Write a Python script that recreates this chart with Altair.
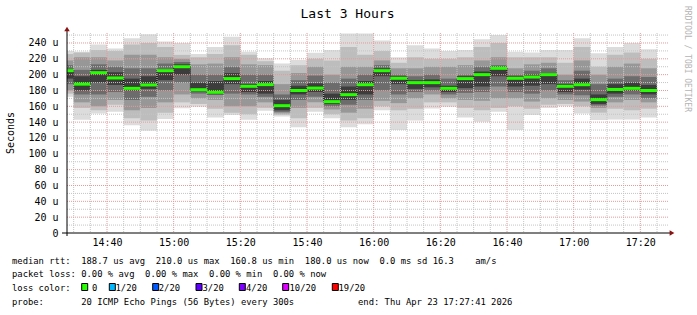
import altair as alt
import pandas as pd

FONT = "DejaVu Sans Mono"

# ---------------- data ----------------
title_text = "Last 3 Hours"
y_title = "Seconds"
watermark = "RRDTOOL / TOBI OETIKER"

window_start = "14:28"
window_end = "17:28"
step_end = ["14:30", "14:35", "14:40", "14:45", "14:50", "14:55", "15:00", "15:05", "15:10",
            "15:15", "15:20", "15:25", "15:30", "15:35", "15:40", "15:45", "15:50", "15:55",
            "16:00", "16:05", "16:10", "16:15", "16:20", "16:25", "16:30", "16:35", "16:40",
            "16:45", "16:50", "16:55", "17:00", "17:05", "17:10", "17:15", "17:20", "17:25"]

x_ticks = ["14:40", "15:00", "15:20", "15:40", "16:00", "16:20", "16:40", "17:00", "17:20"]
y_ticks = [0, 20, 40, 60, 80, 100, 120, 140, 160, 180, 200, 220, 240]

# median rtt (microseconds) per 5-minute step
median = [205, 188, 202.5, 195.8, 182.7, 187, 205, 210, 181, 177.7, 195, 185.3, 187.4, 160.8,
          180, 183, 165.9, 174.7, 187.3, 205, 195.4, 189.9, 189.9, 182.7, 195, 200, 208, 195.4,
          197, 200, 185.3, 187.3, 168.4, 181.3, 182.7, 180]

# smoke bands (outer -> inner), low and high edge per step
band1_lo = [172, 143, 151, 153, 136, 129, 144, 157.5, 159.5, 146, 149, 143, 154.5, 147, 133.5, 153, 145, 133.5,
            137.5, 155, 130, 142, 157.4, 159.5, 146, 140.6, 153, 130, 149, 158, 160, 151, 142.7, 143.5, 143.5, 146]
band1_hi = [230, 229, 238, 233, 246, 251, 242, 240, 226, 235, 248, 229, 220.6, 214, 218.5, 227.6, 231, 252,
            252, 243, 222, 237, 233, 230, 231, 244.6, 250, 229, 228, 231, 231, 246, 227, 235, 240, 232]
band2_lo = [176, 158, 155, 162, 145, 142, 152, 165, 163, 157, 152, 150, 158, 149, 145, 158, 150, 142,
            145, 160, 155, 157, 165, 165, 158, 155, 158, 160, 157, 162, 163, 160, 152, 157, 155, 157]
band2_hi = [226, 228, 231, 230, 238, 240, 235, 225, 222, 226, 237, 225, 217, 205, 212, 220, 218, 235,
            225, 230, 215, 222, 220, 220, 222, 235, 240, 222, 222, 222, 215, 235, 210, 225, 228, 220]
band3_lo = [180, 165, 160, 168, 155, 158, 165, 175, 170, 168, 160, 160, 165, 151, 158, 165, 156, 152,
            157, 167, 164, 170, 175, 170, 168, 167, 170, 170, 166, 170, 168, 166, 158, 165, 168, 165]
band3_hi = [218, 222, 222, 218, 225, 225, 222, 220, 213, 214, 222, 213, 212, 188, 202, 210, 200, 210,
            210, 218, 208, 208, 210, 210, 212, 218, 222, 208, 213, 215, 200, 218, 200, 210, 214, 208]
band4_lo = [188, 175, 175, 178, 168, 172, 180, 190, 176, 175, 176, 175, 172, 153, 168, 172, 160, 162,
            168, 180, 175, 178, 180, 175, 177, 178, 185, 178, 176, 180, 175, 174, 161, 172, 175, 170]
band4_hi = [212, 206, 213, 210, 208, 208, 214, 216, 200, 200, 210, 200, 200, 175, 193, 199, 190, 195,
            200, 212, 200, 198, 200, 195, 200, 210, 212, 200, 205, 208, 193, 205, 188, 195, 198, 197]
band5_lo = [195, 180, 190, 187, 180, 182, 193, 200, 179, 175, 188, 178, 176, 155, 175, 178, 163, 168,
            175, 198, 188, 182, 184, 178, 183, 185, 198, 185, 186, 188, 178, 181, 163, 176, 180, 175]
band5_hi = [207, 198, 206, 203, 195, 198, 207, 213, 190, 192, 202, 188, 192, 168, 186, 189, 176, 185,
            192, 208, 198, 193, 194, 186, 198, 204, 210, 198, 200, 202, 188, 195, 175, 188, 190, 187]

loss_labels = ["0", "1/20", "2/20", "3/20", "4/20", "10/20", "19/20"]
loss_colors = ["#26ff00", "#00b8ff", "#0059ff", "#5e00ff", "#7e00ff", "#dd00ff", "#ff0000"]

legend_line1 = "median rtt:  188.7 us avg  210.0 us max  160.8 us min  180.0 us now  0.0 ms sd 16.3    am/s"
legend_line2 = "packet loss: 0.00 % avg  0.00 % max  0.00 % min  0.00 % now"
legend_line3 = "loss color:"
legend_line4 = "probe:       20 ICMP Echo Pings (56 Bytes) every 300s"
legend_end = "end: Thu Apr 23 17:27:41 2026"

# ---------------- styling / layout ----------------
smoke_colors = ["#dcdcdc", "#bdbdbd", "#979797", "#6c6c6c", "#3c3c3c"]
W, H = 600, 200
PAD = {"left": 67, "top": 33, "right": 30, "bottom": 82}
NB = "\u00a0"


def to_min(s):
    h, m = s.split(":")
    return int(h) * 60 + int(m)


t_lo, t_hi = to_min(window_start), to_min(window_end)
ends = [to_min(s) for s in step_end]
starts = [t_lo] + ends[:-1]

xs = alt.Scale(domain=[t_lo, t_hi], nice=False, zero=False)
ys = alt.Scale(domain=[0, 252.6], nice=False, zero=False)

lab_expr = "floor(datum.value/60) + ':' + (datum.value % 60 < 10 ? '0' : '') + (datum.value % 60)"
X_AXIS = alt.Axis(values=[to_min(s) for s in x_ticks], labelExpr=lab_expr,
                  ticks=False, domain=False, grid=False, labelPadding=4,
                  labelFont=FONT, labelFontSize=10, labelColor="black",
                  labelFlush=False, title=None)
Y_AXIS = alt.Axis(values=y_ticks, labelExpr="datum.value == 0 ? '0' : datum.value + ' u'",
                  ticks=False, domain=False, grid=False, labelPadding=9,
                  labelFont=FONT, labelFontSize=10, labelColor="black", title=None)


def X(f):
    return alt.X(f, type="quantitative", scale=xs, axis=X_AXIS)


def Y(f):
    return alt.Y(f, type="quantitative", scale=ys, axis=Y_AXIS)


# smoke dataframe
bands = [(band1_lo, band1_hi), (band2_lo, band2_hi), (band3_lo, band3_hi),
         (band4_lo, band4_hi), (band5_lo, band5_hi)]
rows = []
for lvl, (los, his) in enumerate(bands):
    for i in range(len(median)):
        rows.append({"level": lvl, "t0": starts[i], "t1": ends[i], "lo": los[i], "hi": his[i]})
smoke_df = pd.DataFrame(rows)

smoke = alt.Chart(smoke_df).mark_rect().encode(
    x=X("t0"), x2="t1:Q", y=Y("lo"), y2="hi:Q",
    color=alt.Color("level:O", scale=alt.Scale(domain=list(range(len(bands))), range=smoke_colors),
                    legend=None),
)

# grid
minor_v = [m for m in range(t_lo + 2, t_hi, 5) if (m % 20) != 0]
major_v = [to_min(s) for s in x_ticks]
minor_h = [v for v in range(10, 251, 10) if v % 20 != 0]
major_h = [v for v in y_ticks if v > 0]

grid_layers = []
for vals, col in ((minor_v, "#c4c4c4"), (major_v, "#e69a9a")):
    grid_layers.append(alt.Chart(pd.DataFrame({"t0": vals})).mark_rule(
        color=col, strokeDash=[1, 1], strokeWidth=1).encode(
        x=X("t0"), y=alt.value(0), y2=alt.value(H)))
for vals, col in ((minor_h, "#c4c4c4"), (major_h, "#e69a9a")):
    grid_layers.append(alt.Chart(pd.DataFrame({"lo": vals})).mark_rule(
        color=col, strokeDash=[1, 1], strokeWidth=1).encode(
        y=Y("lo"), x=alt.value(0), x2=alt.value(W + 1)))

# median steps
step_df = pd.DataFrame({"t0": ends[:-1], "lo": median[:-1], "hi": median[1:]})
steps = alt.Chart(step_df).mark_rule(color="#000000", strokeDash=[1, 1], strokeWidth=1).encode(
    x=X("t0"), y=Y("lo"), y2="hi:Q")

med_df = pd.DataFrame({"t0": starts, "t1": ends, "lo": median})
meds = alt.Chart(med_df).mark_rule(color=loss_colors[0], strokeWidth=3).encode(
    x=X("t0"), x2="t1:Q", y=Y("lo"))

one = pd.DataFrame({"a": [0]})

# axes with arrows
y_axis_line = alt.Chart(one).mark_rule(color="black", strokeWidth=1).encode(
    x=alt.value(0), y=alt.value(-3), y2=alt.value(H + 3))
x_axis_line = alt.Chart(one).mark_rule(color="black", strokeWidth=1).encode(
    x=alt.value(-5), x2=alt.value(W + 3), y=alt.value(H))
arrow_up = alt.Chart(one).mark_point(shape="triangle-up", filled=True, size=30, color="#8b1010",
                                     opacity=1).encode(x=alt.value(0), y=alt.value(-4))
arrow_right = alt.Chart(one).mark_point(shape="triangle-right", filled=True, size=30, color="#8b1010",
                                        opacity=1).encode(x=alt.value(W + 5), y=alt.value(H))


def txt(text, x, y, size=8.86, align="left", baseline="alphabetic", angle=0, color="black"):
    kw = dict(text=text.replace(" ", NB), font=FONT, fontSize=size, align=align,
              baseline=baseline, color=color)
    if angle:
        kw["angle"] = angle
    return alt.Chart(one).mark_text(**kw).encode(x=alt.value(x), y=alt.value(y))


texts = [
    txt(title_text, 347.5 - 67, 18 - 33, size=13, align="center"),
    txt(y_title, 11 - 67, 133 - 33, size=10, align="center", baseline="middle", angle=270),
    txt(watermark, 687 - 67, 59 - 33, size=8, align="center", baseline="middle", angle=90,
        color="#b4b4b4"),
    txt(legend_line1, 12 - 67, 263.5 - 33),
    txt(legend_line2, 12 - 67, 277 - 33),
    txt(legend_line3, 12 - 67, 290.8 - 33),
    txt(legend_line4, 12 - 67, 304.5 - 33),
    txt(legend_end, 358 - 67, 304.5 - 33),
]

box_x = [81.7, 109.3, 152.7, 196, 239.3, 282.7, 332.3]
lab_x = [92, 115.5, 158.8, 202.5, 246, 289.5, 338.5]
legend_layers = []
for lab, col, bx, tx in zip(loss_labels, loss_colors, box_x, lab_x):
    legend_layers.append(alt.Chart(one).mark_rect(stroke="black", strokeWidth=1, fill=col).encode(
        x=alt.value(bx - 67), x2=alt.value(bx - 67 + 6),
        y=alt.value(283.5 - 33), y2=alt.value(290.5 - 33)))
    legend_layers.append(txt(lab, tx - 67, 290.8 - 33))

chart = alt.layer(
    smoke, *grid_layers, steps, meds, y_axis_line, x_axis_line, arrow_up, arrow_right,
    *texts, *legend_layers
).properties(
    width=W, height=H, padding=PAD, autosize=alt.AutoSizeParams(type="none"),
    background="white"
).configure_view(strokeWidth=0)

chart.save("out.html", embed_options={"renderer": "svg", "actions": False})
